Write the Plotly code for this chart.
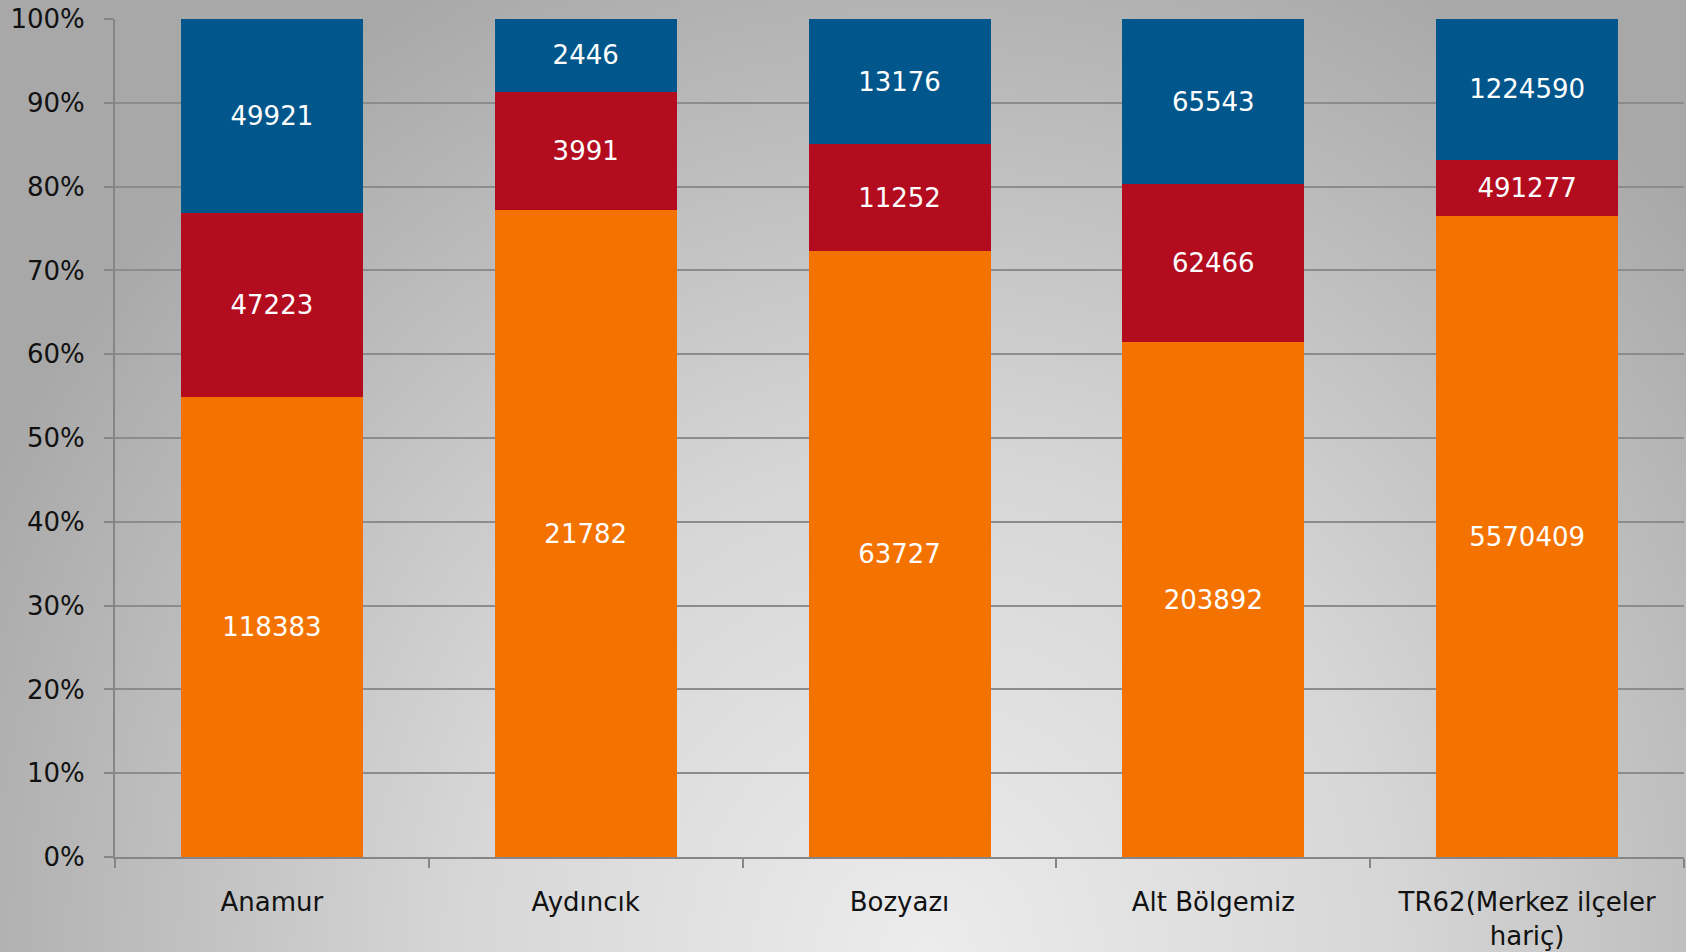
import base64
import plotly.graph_objects as go

categories = ["Anamur", "Aydıncık", "Bozyazı", "Alt Bölgemiz", "TR62(Merkez ilçeler<br>hariç)"]
orange_vals = [118383, 21782, 63727, 203892, 5570409]
red_vals = [47223, 3991, 11252, 62466, 491277]
blue_vals = [49921, 2446, 13176, 65543, 1224590]
y_ticks = [0, 10, 20, 30, 40, 50, 60, 70, 80, 90, 100]
y_tick_labels = [f"{t}%" for t in y_ticks]

W, H = 1686, 952
ML, MR, MT, MB = 115, 2, 19, 95
FONT = "DejaVu Sans"

svg = f'''<svg xmlns="http://www.w3.org/2000/svg" width="{W}" height="{H}" viewBox="0 0 {W} {H}" preserveAspectRatio="none">
<defs><radialGradient id="g" gradientUnits="userSpaceOnUse" cx="{W*0.55}" cy="{H*1.0}" r="{W*0.62}" gradientTransform="translate(0 {H*1.0}) scale(1 1.05) translate(0 -{H*1.0})">
<stop offset="0" stop-color="#ececec"/><stop offset="0.45" stop-color="#d6d6d6"/><stop offset="1" stop-color="#a8a8a8"/></radialGradient></defs>
<rect width="{W}" height="{H}" fill="url(#g)"/></svg>'''
bg_src = "data:image/svg+xml;base64," + base64.b64encode(svg.encode()).decode()

pw = W - ML - MR
ph = H - MT - MB

fig = go.Figure()
series = [
    (orange_vals, "#f47200"),
    (red_vals, "#b30c1f"),
    (blue_vals, "#01578c"),
]
for vals, col in series:
    fig.add_trace(go.Bar(
        x=categories, y=vals, text=[str(v) for v in vals],
        texttemplate="%{text}", textposition="inside", insidetextanchor="middle",
        textangle=0, constraintext="none",
        textfont=dict(family=FONT, size=26, color="white"),
        marker=dict(color=col, line=dict(width=0)),
        hoverinfo="skip", showlegend=False,
    ))

fig.update_layout(
    width=W, height=H,
    margin=dict(l=ML, r=MR, t=MT, b=MB, pad=0),
    barmode="stack", barnorm="percent", bargap=0.42,
    paper_bgcolor="#c8c8c8", plot_bgcolor="rgba(0,0,0,0)",
    font=dict(family=FONT, size=26, color="#111111"),
    images=[dict(source=bg_src, xref="paper", yref="paper",
                 x=-ML / pw, y=1 + MT / ph, sizex=W / pw, sizey=H / ph,
                 xanchor="left", yanchor="top", sizing="stretch", layer="below")],
    xaxis=dict(
        type="category", tickson="boundaries", ticks="outside", ticklen=9,
        tickwidth=2, tickcolor="#868686", showline=True, linecolor="#868686",
        linewidth=2, showgrid=False, tickfont=dict(family=FONT, size=26, color="#111111"),
        ticklabelstandoff=21, fixedrange=True,
    ),
    yaxis=dict(
        range=[0, 100], tickvals=y_ticks, ticktext=y_tick_labels,
        ticks="outside", ticklen=9, tickwidth=2, tickcolor="#868686",
        showline=True, linecolor="#868686", linewidth=2,
        showgrid=True, gridcolor="#8c8c8c", gridwidth=2, zeroline=False,
        tickfont=dict(family=FONT, size=26, color="#111111"),
        ticklabelstandoff=14, fixedrange=True,
    ),
)

fig.write_html("out.html", config={"displayModeBar": False},
               post_script="document.body.style.margin='0';")
